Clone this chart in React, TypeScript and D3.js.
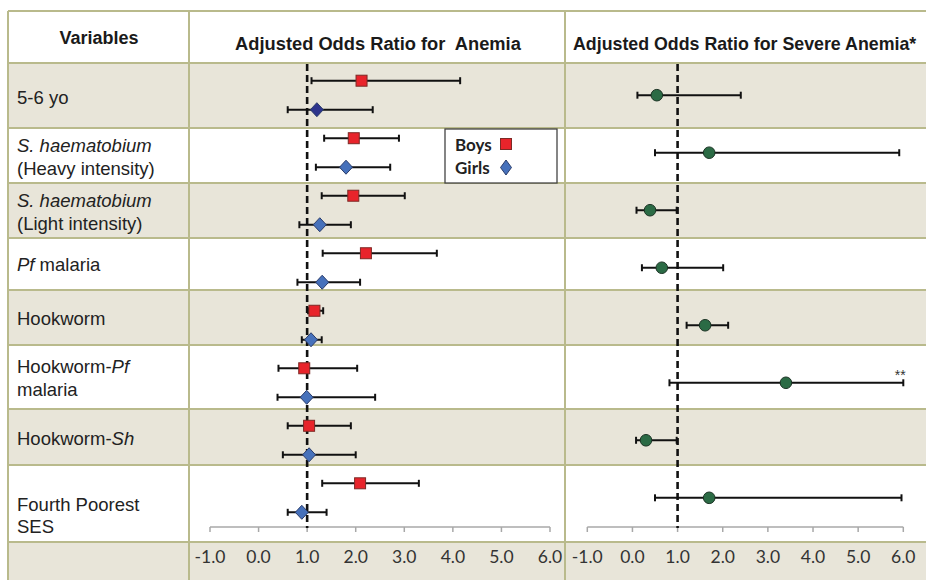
import React from 'react';
import * as d3 from 'd3';

// Variables (row labels). Each row: lines -> segments [text, italic]
const variables = ['5-6 yo', 'Sh heavy', 'Sh light', 'Pf malaria', 'Hookworm', 'Hookworm-Pf', 'Hookworm-Sh', 'Fourth Poorest SES'];
const labelLines: [string, boolean][][][] = [
  [[['5-6 yo', false]]],
  [[['S. haematobium', true]], [['(Heavy intensity)', false]]],
  [[['S. haematobium', true]], [['(Light intensity)', false]]],
  [[['Pf', true], [' malaria', false]]],
  [[['Hookworm', false]]],
  [[['Hookworm-', false], ['Pf', true]], [['malaria', false]]],
  [[['Hookworm-', false], ['Sh', true]]],
  [[['Fourth Poorest', false]], [['SES', false]]],
];

// Anemia, boys
const boysOR = [2.12, 1.96, 1.95, 2.21, 1.15, 0.94, 1.04, 2.09];
const boysLo = [1.09, 1.35, 1.30, 1.32, 1.02, 0.41, 0.60, 1.31];
const boysHi = [4.15, 2.89, 3.01, 3.67, 1.33, 2.03, 1.90, 3.30];
// Anemia, girls
const girlsOR = [1.20, 1.80, 1.26, 1.31, 1.08, 0.99, 1.04, 0.89];
const girlsLo = [0.60, 1.18, 0.84, 0.80, 0.89, 0.39, 0.50, 0.60];
const girlsHi = [2.35, 2.71, 1.90, 2.09, 1.30, 2.40, 2.00, 1.40];
// Severe anemia
const severeOR = [0.54, 1.70, 0.39, 0.65, 1.61, 3.40, 0.30, 1.70];
const severeLo = [0.11, 0.50, 0.09, 0.21, 1.20, 0.82, 0.08, 0.50];
const severeHi = [2.40, 5.91, 0.98, 2.01, 2.12, 6.00, 0.98, 5.96];
const severeNote = ['', '', '', '', '', '**', '', ''];

const xTicks = [-1, 0, 1, 2, 3, 4, 5, 6];
const headers = ['Variables', 'Adjusted Odds Ratio for  Anemia', 'Adjusted Odds Ratio for Severe Anemia*'];
const legendItems = ['Boys', 'Girls'];

// table layout
const W = 926, H = 580;
const rowEdges = [11, 63, 128, 183, 238, 290, 345, 409, 465, 542, 582];
const colEdges = [8, 189, 565];
const labelShift = [2, 1.5, 1.5, 0, 1, 1, 1, 12];
const border = '#b9ba8c';
const shade = '#e8e5d9';
const axisY = 527;

const xL = d3.scaleLinear().domain([-1, 6]).range([210, 550]);
const xR = d3.scaleLinear().domain([-1, 6]).range([587.3, 903.3]);
const yPos = d3.scalePoint<string>().domain(variables).range([95.2, 497.8]);
const off = 14.5;

const sans = '"Liberation Sans", Arial, sans-serif';
const calib = 'Lato, "Open Sans", sans-serif';

const ErrBar = ({ x1, x2, y }: { x1: number; x2: number; y: number }) => (
  <g stroke="#111" strokeWidth={2}>
    <line x1={x1} x2={x2} y1={y} y2={y} />
    <line x1={x1} x2={x1} y1={y - 3.5} y2={y + 3.5} />
    <line x1={x2} x2={x2} y1={y - 3.5} y2={y + 3.5} />
  </g>
);

const Square = ({ x, y, s = 11 }: any) => (
  <rect x={x - s / 2} y={y - s / 2} width={s} height={s} fill="#e8242b" stroke="#7d2a26" strokeWidth={1} />
);

const Diamond = ({ x, y, w = 6.5, h = 7, fill = '#4671bb' }: any) => (
  <path d={`M${x},${y - h}L${x + w},${y}L${x},${y + h}L${x - w},${y}Z`} fill={fill} stroke="#2a3c6a" strokeWidth={1} />
);

const Axis = ({ scale }: { scale: d3.ScaleLinear<number, number> }) => (
  <g>
    <line x1={scale(-1)} x2={scale(6)} y1={axisY} y2={axisY} stroke="#a8a8a8" strokeWidth={1.5} />
    {xTicks.map(t => (
      <line key={t} x1={scale(t)} x2={scale(t)} y1={axisY} y2={axisY + 5} stroke="#a8a8a8" strokeWidth={1.5} />
    ))}
    {xTicks.map(t => (
      <text key={'l' + t} x={scale(t)} y={562.5} textAnchor="middle" fontFamily={calib} fontSize={17.5} fill="#333">
        {t.toFixed(1)}
      </text>
    ))}
    <line x1={scale(1)} x2={scale(1)} y1={64} y2={528} stroke="#111" strokeWidth={2.6} strokeDasharray="7,4" />
  </g>
);

export default function App() {
  const rows = d3.range(rowEdges.length - 1);
  return (
    <svg width={W} height={H} style={{ position: 'absolute', left: 0, top: 0, background: '#fff' }}>
      {/* row backgrounds */}
      {rows.map(i => (
        <rect key={i} x={colEdges[0]} y={rowEdges[i]} width={W - colEdges[0]} height={rowEdges[i + 1] - rowEdges[i]}
          fill={i % 2 === 1 ? shade : '#fff'} />
      ))}
      {/* grid */}
      {rowEdges.slice(0, -1).map((y, i) => (
        <line key={'h' + i} x1={colEdges[0]} x2={W} y1={y} y2={y} stroke={border} strokeWidth={2} />
      ))}
      {colEdges.map((x, i) => (
        <line key={'v' + i} x1={x} x2={x} y1={rowEdges[0]} y2={H} stroke={border} strokeWidth={2} />
      ))}

      {/* headers */}
      <text x={99} y={44} textAnchor="middle" fontFamily={sans} fontWeight="bold" fontSize={18} fill="#1a1a1a">{headers[0]}</text>
      <text x={378} y={49.6} textAnchor="middle" fontFamily={sans} fontWeight="bold" fontSize={18.3} fill="#1a1a1a"
        style={{ whiteSpace: 'pre' }}>{headers[1]}</text>
      <text x={573} y={49.6} fontFamily={sans} fontWeight="bold" fontSize={17.8} fill="#1a1a1a">{headers[2]}</text>

      {/* row labels */}
      {labelLines.map((lines, i) => {
        const c = (rowEdges[i + 1] + rowEdges[i + 2]) / 2 + labelShift[i];
        const lh = 22.6;
        const top = c - ((lines.length - 1) * lh) / 2;
        return lines.map((segs, j) => (
          <text key={i + '-' + j} x={17} y={top + j * lh + 6.6} fontFamily={sans} fontSize={18.5} fill="#222"
            style={{ whiteSpace: 'pre' }}>
            {segs.map(([t, it], k) => (
              <tspan key={k} fontStyle={it ? 'italic' : 'normal'}>{t}</tspan>
            ))}
          </text>
        ));
      })}

      <Axis scale={xL} />
      <Axis scale={xR} />

      {/* anemia: boys & girls */}
      {variables.map((v, i) => {
        const y = yPos(v)!;
        return (
          <g key={'a' + v}>
            <ErrBar x1={xL(boysLo[i])} x2={xL(boysHi[i])} y={y - off} />
            <Square x={xL(boysOR[i])} y={y - off} />
            <ErrBar x1={xL(girlsLo[i])} x2={xL(girlsHi[i])} y={y + off} />
            <Diamond x={xL(girlsOR[i])} y={y + off} fill={i === 0 ? '#2d348c' : '#4671bb'} />
          </g>
        );
      })}

      {/* severe anemia */}
      {variables.map((v, i) => {
        const y = yPos(v)!;
        return (
          <g key={'s' + v}>
            <ErrBar x1={xR(severeLo[i])} x2={xR(severeHi[i])} y={y} />
            <circle cx={xR(severeOR[i])} cy={y} r={5.8} fill="#2b6b45" stroke="#1b3324" strokeWidth={1} />
            {severeNote[i] && (
              <text x={xR(severeHi[i]) - 3} y={y - 3} textAnchor="middle" fontFamily={sans} fontSize={14} fill="#333">
                {severeNote[i]}
              </text>
            )}
          </g>
        );
      })}

      {/* legend */}
      <g>
        <rect x={445} y={129} width={112} height={54} fill="#fff" stroke="#444" strokeWidth={1.3} />
        <text x={455} y={151} fontFamily={calib} fontWeight="bold" fontSize={17} fill="#222">{legendItems[0]}</text>
        <text x={455} y={173.5} fontFamily={calib} fontWeight="bold" fontSize={17} fill="#222">{legendItems[1]}</text>
        <Square x={506} y={144} s={11} />
        <Diamond x={506} y={167.5} w={5.5} h={7.5} />
      </g>
    </svg>
  );
}
